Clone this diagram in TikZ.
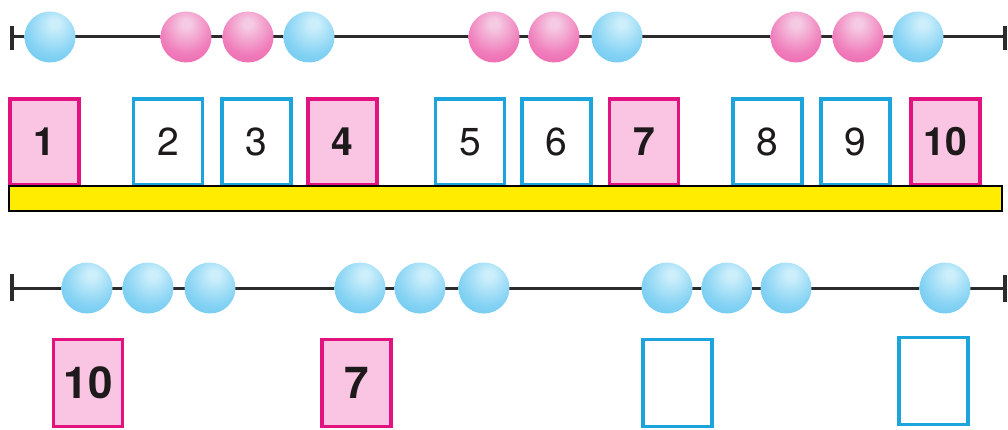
\documentclass[tikz,border=0pt]{standalone}
\usepackage{fontspec}
\setmainfont{TeX Gyre Heros}
\usetikzlibrary{arrows.meta}
\definecolor{magentaB}{HTML}{E2137E}
\definecolor{pinkF}{HTML}{F9C5E2}
\definecolor{cyanB}{HTML}{1BA5DC}
\definecolor{barY}{HTML}{FFEC00}
\definecolor{wireC}{HTML}{2B2B2B}
\definecolor{digitC}{HTML}{1E1A1C}
\definecolor{bhi}{HTML}{CDEFFB}
\definecolor{bmid}{HTML}{86D3F4}
\definecolor{bedge}{HTML}{4AB7E8}
\definecolor{phi}{HTML}{F5CBE3}
\definecolor{pmid}{HTML}{F07DBB}
\definecolor{pedge}{HTML}{E8429A}
\pgfdeclareradialshading{bluebead}{\pgfpoint{5bp}{14bp}}{color(0bp)=(bhi); color(4bp)=(bhi); color(26bp)=(bmid); color(58bp)=(bedge); color(80bp)=(bedge)}
\pgfdeclareradialshading{pinkbead}{\pgfpoint{0bp}{14bp}}{color(0bp)=(phi); color(4bp)=(phi); color(26bp)=(pmid); color(58bp)=(pedge); color(80bp)=(pedge)}
\begin{document}
\begin{tikzpicture}[x=1pt,y=-1pt,
  wire/.style={draw=wireC,line width=3pt},
  endtick/.style={draw=wireC,line width=4pt},
  bbead/.style={circle,minimum size=51pt,inner sep=0pt,shade,shading=bluebead},
  pbead/.style={circle,minimum size=51pt,inner sep=0pt,shade,shading=pinkbead},
  pbox/.style={rectangle,draw=magentaB,fill=pinkF,line width=3.5pt,minimum width=69pt,minimum height=86pt,inner sep=0pt,text=digitC,font=\fontsize{39}{40}\selectfont\bfseries},
  bbox/.style={rectangle,draw=cyanB,fill=white,line width=3.5pt,minimum width=69pt,minimum height=86pt,inner sep=0pt,text=digitC,font=\fontsize{39}{40}\selectfont},
  pboxL/.style={pbox,minimum height=87pt,font=\fontsize{44}{45}\selectfont\bfseries},
  bboxL/.style={bbox,minimum height=87pt},
  barstyle/.style={rectangle,draw=black,fill=barY,line width=2.5pt,minimum width=993pt,minimum height=25pt,inner sep=0pt}
]
\useasboundingbox (0,0) rectangle (1008,430);

% ---------- top string ----------
\coordinate (L1) at (12,37);
\coordinate (R1) at (1005,37);
\coordinate (L1t) at (12,26);
\coordinate (L1b) at (12,50);
\coordinate (R1t) at (1005,26);
\coordinate (R1b) at (1005,50);
\draw[wire] (L1) -- (R1);
\draw[endtick] (L1t) -- (L1b);
\draw[endtick] (R1t) -- (R1b);

\node[bbead] (t1) at (50,37) {};
\node[pbead] (t2) at (186,37) {};
\node[pbead] (t3) at (248,37) {};
\node[bbead] (t4) at (309,37) {};
\node[pbead] (t5) at (494,37) {};
\node[pbead] (t6) at (554,37) {};
\node[bbead] (t7) at (617,37) {};
\node[pbead] (t8) at (796,37) {};
\node[pbead] (t9) at (858,37) {};
\node[bbead] (t10) at (918,37) {};

% ---------- top boxes ----------
\node[pbox] (b1) at (44.5,142) {1};
\node[bbox] (b2) at (168,142) {2};
\node[bbox] (b3) at (256.5,142) {3};
\node[pbox] (b4) at (342.5,142) {4};
\node[bbox] (b5) at (470,142) {5};
\node[bbox] (b6) at (556.5,142) {6};
\node[pbox] (b7) at (644,142) {7};
\node[bbox] (b8) at (767.5,142) {8};
\node[bbox] (b9) at (855.5,142) {9};
\node[pbox] (b10) at (945.5,142) {10};

\node[barstyle] (bar) at (505.5,198.5) {};

% ---------- bottom string ----------
\coordinate (L2) at (12,288);
\coordinate (R2) at (1005,288);
\coordinate (L2t) at (12,274);
\coordinate (L2b) at (12,301);
\coordinate (R2t) at (1005,275);
\coordinate (R2b) at (1005,302);
\draw[wire] (L2) -- (R2);
\draw[endtick] (L2t) -- (L2b);
\draw[endtick] (R2t) -- (R2b);

\node[bbead] (u1) at (87,288) {};
\node[bbead] (u2) at (148,288) {};
\node[bbead] (u3) at (210,288) {};
\node[bbead] (u4) at (360,288) {};
\node[bbead] (u5) at (420,288) {};
\node[bbead] (u6) at (484,288) {};
\node[bbead] (u7) at (667,288) {};
\node[bbead] (u8) at (727,288) {};
\node[bbead] (u9) at (786,288) {};
\node[bbead] (u10) at (945,288) {};

% ---------- bottom boxes ----------
\node[pboxL] (c1) at (88,383) {10};
\node[pboxL] (c2) at (356.5,383) {7};
\node[bboxL] (c3) at (677.5,383) {};
\node[bboxL] (c4) at (933.5,381) {};
\end{tikzpicture}
\end{document}
